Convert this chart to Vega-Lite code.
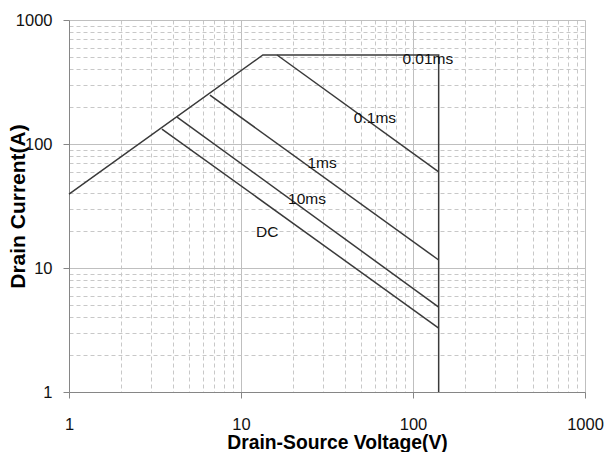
{
  "$schema": "https://vega.github.io/schema/vega-lite/v6.json",
  "width": 516,
  "height": 372,
  "autosize": {"type": "none"},
  "padding": {"left": 69, "top": 20, "right": 23, "bottom": 60},
  "background": "white",
  "config": {"view": {"stroke": null}},
  "datasets": {
    "curves": [
      {"series": "limit", "i": 0, "V": 1, "I": 39.5},
      {"series": "limit", "i": 1, "V": 13.4, "I": 522},
      {"series": "limit", "i": 2, "V": 141, "I": 522},
      {"series": "limit", "i": 3, "V": 141, "I": 1},
      {"series": "0.1ms", "i": 0, "V": 16.2, "I": 522},
      {"series": "0.1ms", "i": 1, "V": 141, "I": 59.5},
      {"series": "1ms", "i": 0, "V": 6.6, "I": 248},
      {"series": "1ms", "i": 1, "V": 141, "I": 11.6},
      {"series": "10ms", "i": 0, "V": 4.25, "I": 165},
      {"series": "10ms", "i": 1, "V": 141, "I": 4.84},
      {"series": "DC", "i": 0, "V": 3.47, "I": 132},
      {"series": "DC", "i": 1, "V": 141, "I": 3.28}
    ],
    "labels": [
      {"text": "0.01ms", "V": 122, "I": 484},
      {"text": "0.1ms", "V": 60.1, "I": 162},
      {"text": "1ms", "V": 29.6, "I": 70.3},
      {"text": "10ms", "V": 24.2, "I": 36.0},
      {"text": "DC", "V": 14.2, "I": 19.5}
    ]
  },
  "layer": [
    {
      "data": {"name": "curves"},
      "mark": {"type": "line", "color": "#3a3a3a", "strokeWidth": 1.5},
      "encoding": {
        "x": {
          "field": "V", "type": "quantitative",
          "scale": {"type": "log", "domain": [1, 1000], "nice": false},
          "axis": {
            "title": "Drain-Source Voltage(V)",
            "values": [1,2,3,4,5,6,7,8,9,10,20,30,40,50,60,70,80,90,100,200,300,400,500,600,700,800,900,1000],
            "format": "d",
            "labelExpr": "(datum.value == 1 || datum.value == 10 || datum.value == 100 || datum.value == 1000) ? datum.label : ''",
            "labelFont": "Liberation Sans",
            "labelFontSize": 16.5,
            "labelColor": "#111111",
            "labelPadding": 18,
            "labelFlush": false,
            "labelOverlap": false,
            "domainColor": "#868686",
            "tickColor": "#868686",
            "tickSize": 6,
            "tickOpacity": {"condition": {"test": "datum.value == 1 || datum.value == 10 || datum.value == 100 || datum.value == 1000", "value": 1}, "value": 0},
            "gridColor": {"condition": {"test": "datum.value == 1 || datum.value == 10 || datum.value == 100 || datum.value == 1000", "value": "#bfbfbf"}, "value": "#c8c8c8"},
            "gridDash": {"condition": {"test": "datum.value == 1 || datum.value == 10 || datum.value == 100 || datum.value == 1000", "value": []}, "value": [4, 3]},
            "gridWidth": 1,
            "titleFont": "Liberation Sans",
            "titleFontSize": 19.3,
            "titleFontWeight": "bold",
            "titleColor": "#000000",
            "titleX": 268,
            "titleY": 56,
            "titleAlign": "center",
            "titleBaseline": "alphabetic"
          }
        },
        "y": {
          "field": "I", "type": "quantitative",
          "scale": {"type": "log", "domain": [1, 1000], "nice": false},
          "axis": {
            "title": "Drain Current(A)",
            "values": [1,2,3,4,5,6,7,8,9,10,20,30,40,50,60,70,80,90,100,200,300,400,500,600,700,800,900,1000],
            "format": "d",
            "labelExpr": "(datum.value == 1 || datum.value == 10 || datum.value == 100 || datum.value == 1000) ? datum.label : ''",
            "labelFont": "Liberation Sans",
            "labelFontSize": 16.5,
            "labelColor": "#111111",
            "labelPadding": 11,
            "labelFlush": false,
            "labelOverlap": false,
            "domainColor": "#868686",
            "tickColor": "#868686",
            "tickSize": 6,
            "tickOpacity": {"condition": {"test": "datum.value == 1 || datum.value == 10 || datum.value == 100 || datum.value == 1000", "value": 1}, "value": 0},
            "gridColor": {"condition": {"test": "datum.value == 1 || datum.value == 10 || datum.value == 100 || datum.value == 1000", "value": "#bfbfbf"}, "value": "#c8c8c8"},
            "gridDash": {"condition": {"test": "datum.value == 1 || datum.value == 10 || datum.value == 100 || datum.value == 1000", "value": []}, "value": [4, 3]},
            "gridWidth": 1,
            "titleFont": "Liberation Sans",
            "titleFontSize": 21,
            "titleFontWeight": "bold",
            "titleColor": "#000000",
            "titleAngle": -90,
            "titleX": -51,
            "titleY": 186,
            "titleAlign": "center",
            "titleBaseline": "middle"
          }
        },
        "detail": {"field": "series"},
        "order": {"field": "i", "type": "quantitative"}
      }
    },
    {
      "data": {"name": "labels"},
      "mark": {"type": "text", "font": "Liberation Sans", "fontSize": 15.5, "color": "#111111", "align": "center", "baseline": "middle"},
      "encoding": {
        "x": {"field": "V", "type": "quantitative"},
        "y": {"field": "I", "type": "quantitative"},
        "text": {"field": "text"}
      }
    }
  ]
}
